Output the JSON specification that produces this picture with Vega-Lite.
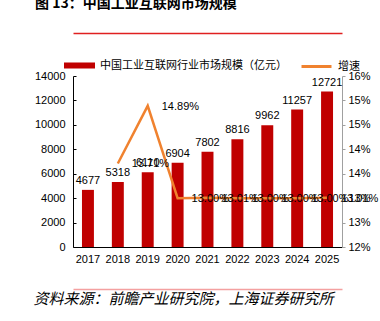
{
  "$schema": "https://vega.github.io/schema/vega-lite/v6.json",
  "autosize": "none",
  "width": 269,
  "height": 171,
  "padding": {"left": 73, "top": 76, "right": 38, "bottom": 74},
  "background": "#ffffff",
  "title": {
    "text": "图 13：中国工业互联网市场规模",
    "anchor": "start",
    "frame": "group",
    "font": "Noto Sans CJK SC",
    "fontSize": 14,
    "fontWeight": "bold",
    "color": "#000000",
    "dx": -38,
    "offset": 22
  },
  "data": {
    "values": [
      {"year": "2017", "value": 4677, "growth": null},
      {"year": "2018", "value": 5318, "growth": 0.1371},
      {"year": "2019", "value": 6110, "growth": 0.1489},
      {"year": "2020", "value": 6904, "growth": 0.1300},
      {"year": "2021", "value": 7802, "growth": 0.1301},
      {"year": "2022", "value": 8816, "growth": 0.1300},
      {"year": "2023", "value": 9962, "growth": 0.1300},
      {"year": "2024", "value": 11257, "growth": 0.1300},
      {"year": "2025", "value": 12721, "growth": 0.1301}
    ]
  },
  "encoding": {
    "x": {"field": "year", "type": "ordinal", "scale": {"paddingInner": 0.6, "paddingOuter": 0.3}}
  },
  "layer": [
    {
      "mark": {"type": "bar", "color": "#C00000"},
      "encoding": {
        "x": {"field": "year", "type": "ordinal", "axis": {"orient": "bottom", "title": null, "ticks": false, "domainColor": "#000000", "labelPadding": 6, "labelAngle": 0}},
        "y": {"field": "value", "type": "quantitative", "scale": {"domain": [0, 14000], "nice": false}, "axis": {"orient": "left", "title": null, "values": [0, 2000, 4000, 6000, 8000, 10000, 12000, 14000], "format": "d", "domainColor": "#000000", "tickColor": "#000000", "tickSize": -3, "labelPadding": 11}},
        "fill": {"datum": "中国工业互联网行业市场规模（亿元）", "scale": {"range": ["#C00000"]}, "legend": {"orient": "none", "legendX": -9, "legendY": -26, "title": null, "symbolType": "M-1,-0.194H1V0.194H-1Z", "symbolSize": 961, "symbolStrokeWidth": 0, "labelOffset": 5, "labelLimit": 0, "labelFont": "Noto Sans CJK SC", "labelFontSize": 11, "labelColor": "#000000", "padding": 0}}
      }
    },
    {
      "mark": {"type": "text", "baseline": "bottom", "dy": -4, "fontSize": 11, "color": "#000000"},
      "encoding": {
        "x": {"field": "year", "type": "ordinal", "axis": null},
        "y": {"field": "value", "type": "quantitative", "scale": {"domain": [0, 14000], "nice": false}, "axis": null},
        "text": {"field": "value", "type": "quantitative", "format": "d"}
      }
    },
    {
      "mark": {"type": "line", "strokeWidth": 2.5, "color": "#F0822F"},
      "encoding": {
        "x": {"field": "year", "type": "ordinal", "axis": {"orient": "top", "offset": 43, "title": null, "labels": false, "ticks": false, "domainColor": "#E02020", "domainWidth": 1.5}},
        "y": {"field": "growth", "type": "quantitative", "scale": {"domain": [0.12, 0.155], "nice": false}, "axis": {"orient": "right", "title": null, "values": [0.12, 0.125, 0.13, 0.135, 0.14, 0.145, 0.15, 0.155], "labelExpr": "round(datum.value*100+0.001)+'%'", "domainColor": "#A0A0A0", "tickColor": "#A0A0A0", "tickSize": 3, "labelPadding": 3}},
        "stroke": {"datum": "增速", "scale": {"range": ["#F0822F"]}, "legend": {"orient": "none", "legendX": 227, "legendY": -26, "title": null, "symbolType": "stroke", "symbolSize": 900, "symbolStrokeWidth": 3, "labelOffset": 5, "labelLimit": 0, "labelFont": "Noto Sans CJK SC", "labelFontSize": 11, "labelColor": "#000000", "padding": 0}}
      }
    },
    {
      "mark": {"type": "text", "align": "left", "baseline": "middle", "dx": 14, "dy": 1, "fontSize": 11, "color": "#000000"},
      "encoding": {
        "x": {"field": "year", "type": "ordinal", "axis": {"orient": "bottom", "offset": 42, "labels": false, "ticks": false, "domainColor": "#F4A0A0", "domainWidth": 1.5, "title": "资料来源：前瞻产业研究院，上海证券研究所", "titleX": -40, "titleY": 14, "titleAlign": "left", "titleAnchor": null, "titleBaseline": "alphabetic", "titleFont": "Noto Sans CJK SC", "titleFontSize": 15, "titleFontStyle": "italic", "titleFontWeight": "normal", "titleColor": "#000000"}},
        "y": {"field": "growth", "type": "quantitative", "scale": {"domain": [0.12, 0.155], "nice": false}, "axis": null},
        "text": {"field": "growth", "type": "quantitative", "format": ".2%"}
      }
    }
  ],
  "resolve": {"scale": {"y": "independent"}, "axis": {"x": "independent"}},
  "config": {
    "view": {"stroke": null},
    "font": "Liberation Sans",
    "axis": {"grid": false, "labelFont": "Liberation Sans", "labelFontSize": 11, "labelColor": "#000000"},
    "text": {"font": "Liberation Sans"}
  }
}
